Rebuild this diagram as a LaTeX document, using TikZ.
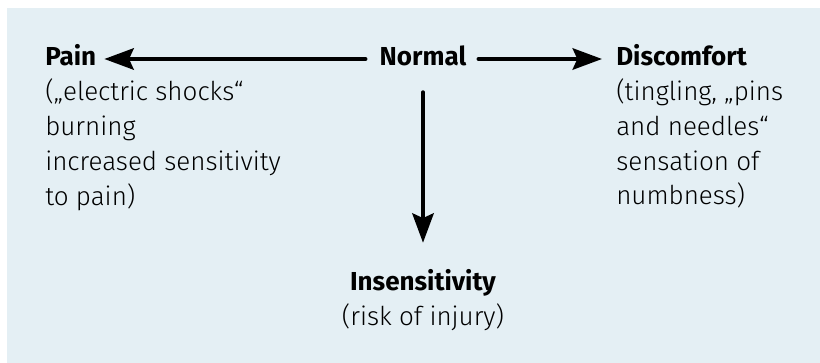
\documentclass[tikz,border=0pt]{standalone}
\usepackage{fontspec}
\IfFontExistsTF{Fira Sans Light}{\setmainfont{Fira Sans}[UprightFont=* Light,BoldFont=* Bold]}{\setmainfont{Fira Sans}}
\usetikzlibrary{arrows.meta,calc}
\definecolor{bgblue}{HTML}{E4EFF4}
\begin{document}
\begin{tikzpicture}[x=0.75pt,y=-0.75pt,
  txt/.style={inner sep=0pt,font=\fontsize{19.5}{26}\selectfont,anchor=base west},
  ctxt/.style={txt,anchor=base},
  title/.style={inner sep=0pt,font=\fontsize{19.5}{26}\selectfont\bfseries,text height=10.5pt,text depth=0pt},
  arr/.style={line width=3pt,line cap=round,-{Stealth[length=22pt,width=16pt,inset=3.5pt]}}]
\useasboundingbox (0,0) rectangle (820,363);
\fill[bgblue] (7,8) rectangle (820,363);
% titles
\node[title,anchor=base] (normal) at (423,66) {Normal};
\node[title,anchor=base west] (pain) at (45,66) {Pain};
\node[title,anchor=base west] (disc) at (616,66) {Discomfort};
\node[title,anchor=base] (insens) at (423,290) {Insensitivity};
% descriptions
\node[txt] (p1) at (45,101) {(„electric shocks“};
\node[txt] (p2) at (45,136) {burning};
\node[txt] (p3) at (45,171) {increased sensitivity};
\node[txt] (p4) at (45,206) {to pain)};
\node[txt] (d1) at (616,101) {(tingling, „pins};
\node[txt] (d2) at (616,136) {and needles“};
\node[txt] (d3) at (616,171) {sensation of};
\node[txt] (d4) at (616,205) {numbness)};
\node[ctxt] (i1) at (423,325) {(risk of injury)};
% arrows
\draw[arr] ($(normal.west)+(-14,0)$) -- ($(pain.east)+(8,0)$);
\draw[arr] ($(normal.east)+(12,0)$) -- ($(disc.west)+(-14,0)$);
\draw[arr] ($(normal.south)+(0,26)$) -- ($(insens.north)+(0,-33)$);
\end{tikzpicture}
\end{document}
